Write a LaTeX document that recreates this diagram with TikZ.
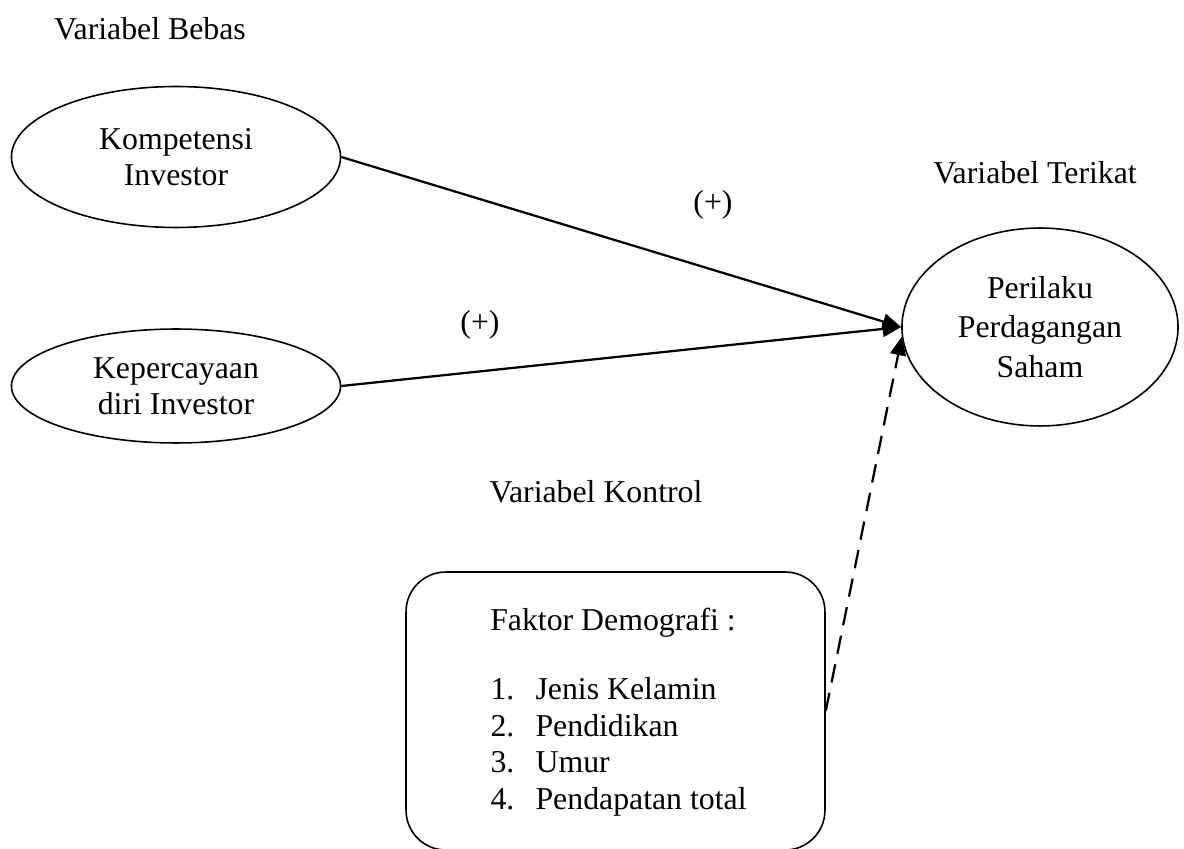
\documentclass[tikz,border=0pt,12pt]{standalone}
\usepackage{fontspec}
\setmainfont{Liberation Serif}
\usetikzlibrary{shapes.geometric, arrows.meta}

\begin{document}
\begin{tikzpicture}[x=0.3774pt, y=-0.3774pt,
    >={Triangle[length=7pt,width=6pt]},
    var/.style={draw, ellipse, line width=0.6pt, inner sep=0pt, align=center, font=\fontsize{12}{13.5}\selectfont},
    lbl/.style={inner sep=0pt, font=\fontsize{12}{14}\selectfont}]
    \useasboundingbox (0,0) rectangle (1184,849);
    \clip (0,0) rectangle (1184,849);

    % Variabel bebas (kiri)
    \node[lbl] (bebas) at (150,29) {Variabel Bebas};
    \node[var, minimum width=124.2pt, minimum height=53.2pt] (komp) at (176,157) {Kompetensi\\Investor};
    \node[var, minimum width=124.2pt, minimum height=43pt] (kpd) at (176,386) {Kepercayaan\\diri Investor};

    % Variabel terikat (kanan)
    \node[lbl] (terikat) at (1035,173) {Variabel Terikat};
    \node[var, minimum width=104.2pt, minimum height=74.7pt, font=\fontsize{12}{15}\selectfont] (pds) at (1040,327) {Perilaku\\Perdagangan\\Saham};

    % Variabel kontrol (bawah)
    \node[lbl] (kontrol) at (596,492) {Variabel Kontrol};
    \node[draw, rounded corners=15pt, line width=0.6pt, minimum width=158.1pt, minimum height=104.9pt] (demo) at (615.5,711) {};
    \node[lbl] (demotitle) at (613,623) {Faktor Demografi :};
    \node[lbl, anchor=west, font=\fontsize{12}{13.8}\selectfont] (demolist) at (490,747) {%
        \begin{tabular}{@{}p{17pt}@{}l@{}}
        1. & Jenis Kelamin\\
        2. & Pendidikan\\
        3. & Umur\\
        4. & Pendapatan total
        \end{tabular}};

    % Hubungan antar variabel
    \draw[->, line width=0.85pt] (komp.east) -- (pds.west);
    \draw[->, line width=0.85pt] (kpd.east) -- (pds.west);
    \draw[->, line width=0.85pt, dash pattern=on 7pt off 4pt] (demo.east) -- (pds.184);
    \node[lbl] (plusa) at (713,205) {(+)};
    \node[lbl] (plusb) at (480,325) {(+)};
\end{tikzpicture}
\end{document}
